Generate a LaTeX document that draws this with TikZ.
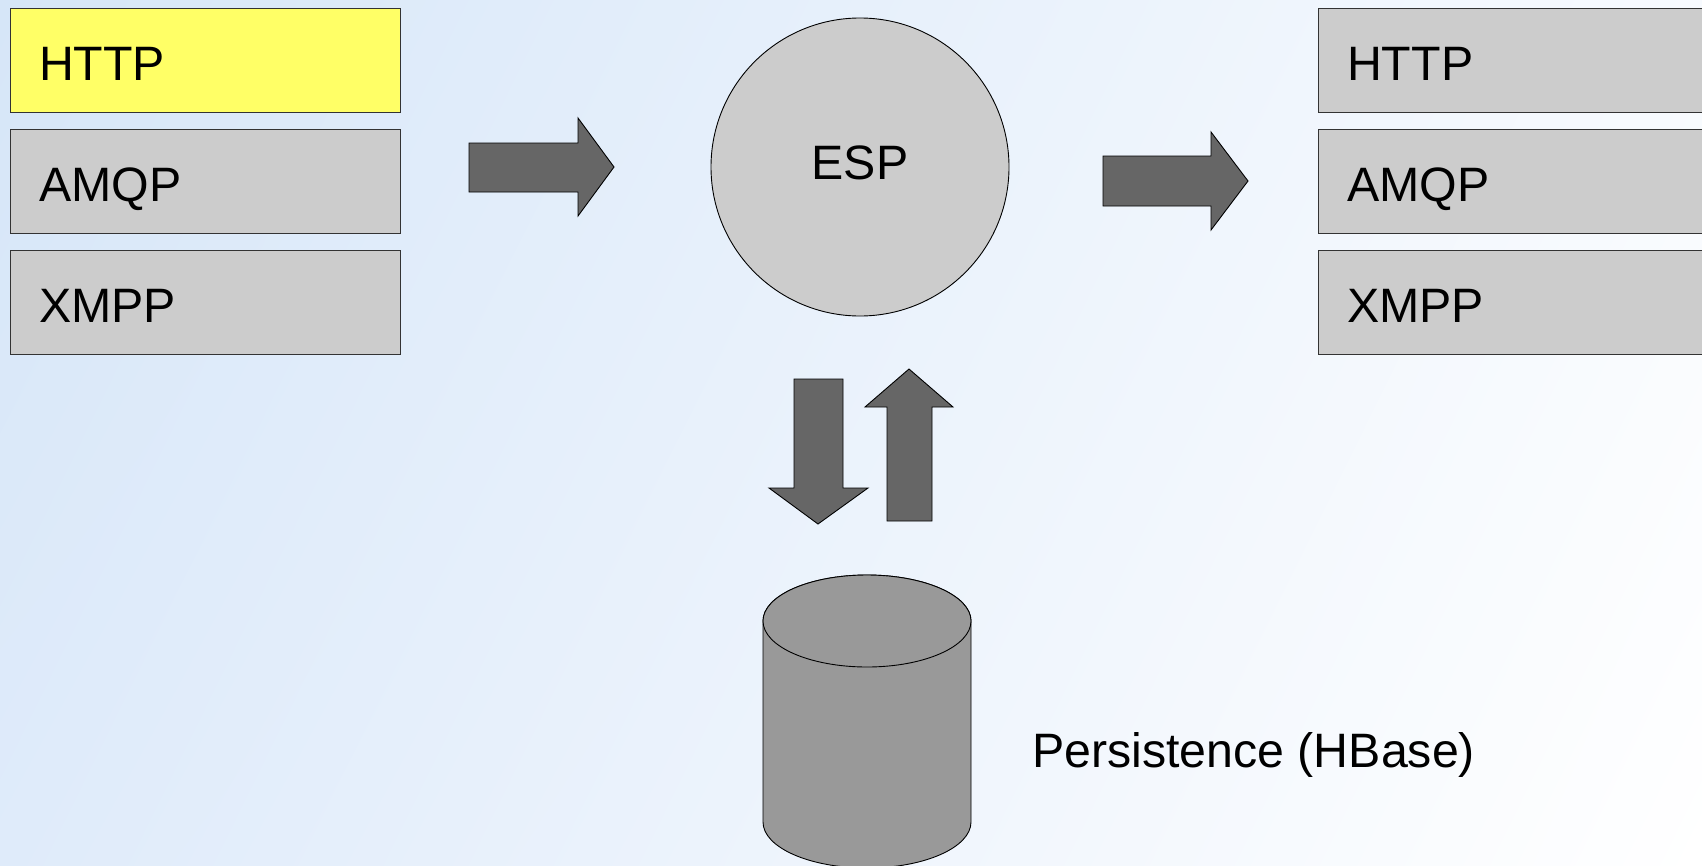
\documentclass[tikz,border=0pt]{standalone}
\usepackage{fontspec}
\setmainfont{Liberation Sans}
\usetikzlibrary{calc,shadings}

\definecolor{bgTL}{HTML}{D6E6F8}
\definecolor{bgBL}{HTML}{DFEBFA}
\definecolor{bgTR}{HTML}{F7FAFE}
\definecolor{bgBR}{HTML}{FFFFFF}
\definecolor{protoGray}{HTML}{CCCCCC}
\definecolor{protoYellow}{HTML}{FFFF66}
\definecolor{boxLine}{HTML}{333333}
\definecolor{arrowGray}{HTML}{666666}
\definecolor{dbGray}{HTML}{999999}

\newcommand\protofont{\fontsize{48.3bp}{58bp}\selectfont}

\begin{document}
\begin{tikzpicture}[x=1bp,y=-1bp,
  proto/.style={draw=boxLine, line width=1.2bp, fill=protoGray,
    anchor=north west, minimum width=390bp, minimum height=104bp,
    text width=333bp, align=left, inner xsep=28.5bp, inner ysep=0pt,
    text height=40bp, text depth=0pt, font=\protofont},
  blockarrow/.style={draw=black, line width=0.9bp, fill=arrowGray, line join=miter},
  dbshape/.style={draw=black, line width=0.9bp, fill=dbGray}]

  % page and background gradient
  \useasboundingbox (0,0) rectangle (1702,865);
  \clip (0,0) rectangle (1702,865);
  \shade[upper left=bgTL, lower left=bgBL, upper right=bgTR, lower right=bgBR]
    (0,0) rectangle (1702,865);

  % incoming protocols
  \node[proto, fill=protoYellow] (inHttp) at (10,8)   {HTTP};
  \node[proto] (inAmqp) at (10,129) {AMQP};
  \node[proto] (inXmpp) at (10,250) {XMPP};

  % outgoing protocols
  \node[proto] (outHttp) at (1318,8)   {HTTP};
  \node[proto] (outAmqp) at (1318,129) {AMQP};
  \node[proto] (outXmpp) at (1318,250) {XMPP};

  % event stream processor
  \node[circle, draw=black, line width=0.9bp, fill=protoGray, minimum size=298bp,
        inner sep=0pt, text height=24bp, text depth=0pt, font=\protofont]
        (esp) at (860,167) {ESP};

  % input -> ESP
  \draw[blockarrow] (469,143) -- (578,143) -- (578,118) -- (614,167)
    -- (578,216) -- (578,192) -- (469,192) -- cycle;

  % ESP -> output
  \draw[blockarrow] (1103,156) -- (1211,156) -- (1211,132) -- (1248,181)
    -- (1211,230) -- (1211,206) -- (1103,206) -- cycle;

  % ESP -> storage
  \draw[blockarrow] (794,379) -- (843,379) -- (843,488) -- (868,488)
    -- (818,524) -- (769,488) -- (794,488) -- cycle;

  % storage -> ESP
  \draw[blockarrow] (887,521) -- (887,407) -- (865,407) -- (909,369)
    -- (953,407) -- (932,407) -- (932,521) -- cycle;

  % storage cylinder
  \coordinate (dbTop) at (867,621);
  \draw[dbshape] (763,621) -- (763,822)
    arc[start angle=180, end angle=0, x radius=104, y radius=46]
    -- (971,621)
    arc[start angle=360, end angle=180, x radius=104, y radius=46] -- cycle;
  \draw[dbshape] (dbTop) ellipse[x radius=104, y radius=46];

  \node[font=\protofont, anchor=base west, inner sep=0pt] (dbLabel) at (1032,767)
    {Persistence (HBase)};
\end{tikzpicture}
\end{document}
